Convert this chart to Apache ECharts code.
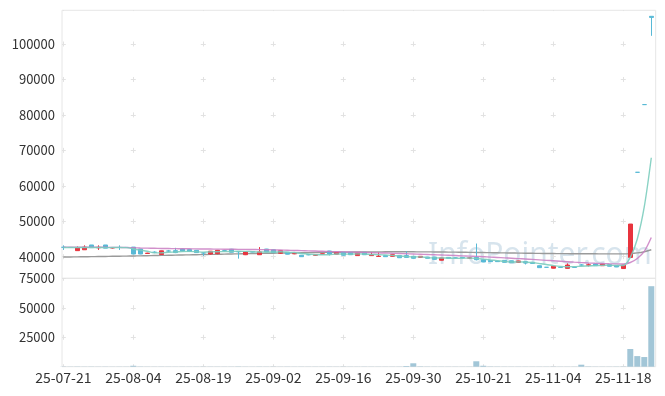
<!DOCTYPE html>
<html><head><meta charset="utf-8">
<script src="https://cdn.jsdelivr.net/npm/echarts@6/dist/echarts.min.js"></script>
<style>html,body{margin:0;padding:0;background:#fff}#c{width:665px;height:396px}</style>
</head><body><div id="c"></div>
<script>
const dates = [
'25-07-21','25-07-22','25-07-23','25-07-24','25-07-25','25-07-28','25-07-29','25-07-30','25-07-31','25-08-01',
'25-08-04','25-08-05','25-08-06','25-08-07','25-08-08','25-08-11','25-08-12','25-08-13','25-08-14','25-08-18',
'25-08-19','25-08-20','25-08-21','25-08-22','25-08-25','25-08-26','25-08-27','25-08-28','25-08-29','25-09-01',
'25-09-02','25-09-03','25-09-04','25-09-05','25-09-08','25-09-09','25-09-10','25-09-11','25-09-12','25-09-15',
'25-09-16','25-09-17','25-09-18','25-09-19','25-09-22','25-09-23','25-09-24','25-09-25','25-09-26','25-09-29',
'25-09-30','25-10-01','25-10-02','25-10-10','25-10-13','25-10-14','25-10-15','25-10-16','25-10-17','25-10-20',
'25-10-21','25-10-22','25-10-23','25-10-24','25-10-27','25-10-28','25-10-29','25-10-30','25-10-31','25-11-03',
'25-11-04','25-11-05','25-11-06','25-11-07','25-11-10','25-11-11','25-11-12','25-11-13','25-11-14','25-11-17',
'25-11-18','25-11-19','25-11-20','25-11-21','25-11-24'];

const openP = [
42650,42600,41700,41950,43300,42500,43300,42450,42600,42600,
42700,42150,40900,41250,40600,41600,41700,42150,42000,41800,
41050,40750,40850,41700,42100,41400,40550,41450,40550,42150,
41950,40950,41250,40800,40400,40550,40400,40700,41600,40700,
41250,41250,40300,41250,40300,40050,40300,40100,40300,40300,
40100,39800,39900,39900,39000,39800,39650,39800,39600,39800,
39150,38950,38800,38950,38850,38400,38600,38400,37450,37000,
36750,37050,36700,37050,37650,37600,37950,37450,37750,37550,
36650,39800,63800,82900,107800];
const closeP = [
42650,42600,42450,42700,42550,42650,42400,42550,42600,42600,
40750,40750,41000,41250,41650,41600,41150,41600,41450,41150,
41050,41550,41800,41700,41250,41400,41350,41300,41350,41350,
41150,41700,40700,40900,40000,40550,40550,40800,40750,41150,
40400,40550,41050,40550,40550,40150,40000,40550,39700,39800,
39550,40100,39550,39250,39650,39550,39650,39650,39650,39150,
38500,38600,38600,38400,38300,38800,38200,38100,36900,37000,
37300,36950,37650,36950,37650,37700,37450,37950,37300,37100,
37650,49200,63800,82900,107500];
const lowP = [
41900,42500,41700,41950,42550,41900,42400,42300,41900,42500,
40700,40700,40800,41000,40500,41300,41000,41500,41300,41100,
40200,40600,40700,41500,41200,39450,40450,41200,40500,41300,
41100,40800,40650,40700,39950,40400,40200,40650,40350,40650,
40350,40500,40250,40500,40250,40000,39950,40050,39650,39750,
39500,39750,39500,39200,38950,39500,39550,39550,39400,38950,
38450,38550,38550,38350,38250,38350,37800,38050,36850,36950,
36700,36900,36650,36900,37400,37250,37400,37400,37250,37050,
36600,39700,63800,82900,102300];
const highP = [
43200,42700,42900,43200,43300,43200,43300,42700,43200,42700,
42700,42150,41100,41500,41700,41900,42500,42200,42100,41900,
41200,41600,41900,41900,42200,41600,41450,41550,42700,42200,
42000,41750,41300,41000,40450,40700,40700,40850,41650,41200,
41300,41300,41100,41300,41300,41200,40350,40600,40350,41500,
40150,40150,39950,39950,39700,39850,39750,39850,39900,43700,
39200,39000,38850,39000,38900,38850,38650,38450,37500,37050,
37350,37100,38100,37100,37900,38100,38000,38000,37800,37600,
37700,49200,63800,82900,107800];
const volume = [
160,140,180,150,170,130,160,120,150,140,
800,220,140,130,160,150,120,140,130,150,
140,160,150,130,140,230,150,120,170,140,
150,130,160,120,140,130,150,140,160,130,
150,140,130,160,140,150,130,140,160,600,
2900,300,180,150,140,130,150,120,140,4600,
800,250,180,150,140,160,150,130,140,150,
160,140,130,150,1700,250,160,140,150,170,
180,15000,9000,8200,68300];
const ma5 = [
42600,42600,42600,42600,42590,42590,42550,42570,42590,42560,
42180,41850,41540,41070,41080,41250,41330,41450,41490,41390,
41280,41360,41390,41450,41470,41540,41500,41400,41330,41350,
41300,41370,41250,41160,40890,40770,40540,40560,40530,40760,
40730,40730,40780,40740,40620,40570,40460,40360,40190,40040,
39920,39940,39740,39650,39620,39620,39530,39550,39630,39530,
39320,39110,38900,38650,38480,38540,38460,38360,38060,37800,
37500,37260,37170,37180,37310,37390,37480,37540,37610,37500,
37490,39800,45000,54100,67900];
const ma20 = [
42700,42700,42680,42670,42660,42650,42640,42620,42610,42600,
42520,42450,42400,42360,42320,42290,42260,42240,42220,42200,
42170,42150,42130,42110,42090,42070,42050,42030,42000,41960,
41920,41870,41820,41760,41700,41640,41580,41520,41460,41410,
41360,41310,41260,41200,41140,41080,41020,40960,40900,40830,
40760,40690,40620,40550,40480,40400,40320,40240,40160,40080,
39980,39880,39780,39670,39560,39450,39340,39230,39100,38970,
38840,38710,38580,38450,38330,38220,38130,38060,38000,37960,
37940,38350,39500,41500,45400];
const ma120 = [
39900,39920,39950,39980,40010,40040,40070,40100,40130,40160,
40200,40240,40280,40320,40360,40400,40440,40480,40520,40560,
40600,40640,40680,40720,40760,40800,40840,40880,40920,40950,
40980,41010,41040,41070,41100,41130,41160,41190,41220,41250,
41270,41290,41310,41330,41350,41360,41370,41380,41380,41380,
41370,41360,41350,41330,41310,41290,41270,41250,41220,41190,
41160,41130,41100,41070,41040,41010,40980,40950,40920,40900,
40880,40860,40850,40840,40830,40820,40810,40800,40800,40800,
40800,40870,41060,41400,41950];
const dateTickIdx = [0,10,20,30,40,50,60,70,80];
const priceTicks = [40000,50000,60000,70000,80000,90000,100000];
const volumeTicks = [0,25000,50000,75000];

const UP = '#e8343e', DOWN = '#58b9d6';
const BORDER = '#e6e6e6', CROSS = '#e2e2e2';
const FONT = '"Noto Sans CJK KR","Noto Sans",sans-serif';
const plain = v => String(v);

const candleData = dates.map((d, i) => {
  const c = closeP[i] > openP[i] ? UP : DOWN;
  return {
    value: [i, openP[i], closeP[i], lowP[i], highP[i]],
    itemStyle: {color: c, color0: c, borderColor: c, borderColor0: c, borderColorDoji: c}
  };
});

const chart = echarts.init(document.getElementById('c'));
chart.setOption({
  animation: false,
  textStyle: {fontFamily: FONT},
  graphic: [{
    type: 'text', left: 428, top: 240, z: -10, silent: true,
    style: {text: 'InfoPointer.com', fontSize: 30, fontFamily: '"Noto Sans",sans-serif', fill: 'rgba(160,190,212,0.42)'}
  }],
  grid: [
    {left: 62, top: 10.3, right: 9.3, height: 268, show: true, borderColor: BORDER, borderWidth: 1},
    {left: 62, top: 278.3, right: 9.3, height: 88.4, show: true, borderColor: BORDER, borderWidth: 1}
  ],
  xAxis: [
    {type: 'value', gridIndex: 0, min: -0.186, max: 84.63,
     axisLine: {show: false}, axisTick: {show: false, customValues: dateTickIdx},
     axisLabel: {show: false},
     splitLine: {show: true, lineStyle: {color: CROSS, width: 1, type: [5, 30.45], dashOffset: 4.25}}},
    {type: 'value', gridIndex: 1, min: -0.186, max: 84.63,
     axisLine: {show: false}, axisTick: {show: false, customValues: dateTickIdx},
     axisLabel: {show: true, customValues: dateTickIdx, formatter: v => dates[Math.round(v)], color: '#333', fontSize: 14, margin: 4},
     splitLine: {show: true, lineStyle: {color: CROSS, width: 1, type: [5, 24.47], dashOffset: 2.5}}}
  ],
  yAxis: [
    {type: 'value', gridIndex: 0, min: 33900, max: 109500, scale: true,
     axisLine: {show: false}, axisTick: {show: false, customValues: priceTicks},
     axisLabel: {customValues: priceTicks, formatter: plain, color: '#333', fontSize: 13, margin: 7},
     splitLine: {show: true, lineStyle: {color: CROSS, width: 1, type: [5, 65], dashOffset: 1.2}}},
    {type: 'value', gridIndex: 1, min: 0, max: 75000, interval: 25000,
     axisLine: {show: false}, axisTick: {show: false, customValues: volumeTicks},
     axisLabel: {customValues: volumeTicks.slice(1), formatter: plain, color: '#333', fontSize: 13, margin: 7},
     splitLine: {show: true, lineStyle: {color: CROSS, width: 1, type: [5, 65], dashOffset: 1.2}}}
  ],
  series: [
    {type: 'line', xAxisIndex: 0, yAxisIndex: 0, data: ma120.map((v, i) => [i, v]), symbol: 'none', smooth: 0.3,
     lineStyle: {color: '#9a9a9a', width: 1.4}, z: 3},
    {type: 'candlestick', xAxisIndex: 0, yAxisIndex: 0,
     data: candleData,
     encode: {x: 0, y: [1, 2, 3, 4]}, barWidth: 5,
     itemStyle: {color: UP, color0: DOWN, borderColor: UP, borderColor0: DOWN, borderColorDoji: DOWN, borderWidth: 1}, z: 4},
    {type: 'line', xAxisIndex: 0, yAxisIndex: 0, data: ma20.map((v, i) => [i, v]), symbol: 'none', smooth: 0.3,
     lineStyle: {color: '#c97cc2', width: 1.4, opacity: 0.85}, z: 5},
    {type: 'line', xAxisIndex: 0, yAxisIndex: 0, data: ma5.map((v, i) => [i, v]), symbol: 'none', smooth: 0.3,
     lineStyle: {color: '#7ccdbe', width: 1.4, opacity: 0.9}, z: 6},
    {type: 'bar', xAxisIndex: 1, yAxisIndex: 1, data: volume.map((v, i) => [i, v]), barWidth: 6,
     itemStyle: {color: '#a2c6d7', borderWidth: 0}}
  ]
});
</script></body></html>
